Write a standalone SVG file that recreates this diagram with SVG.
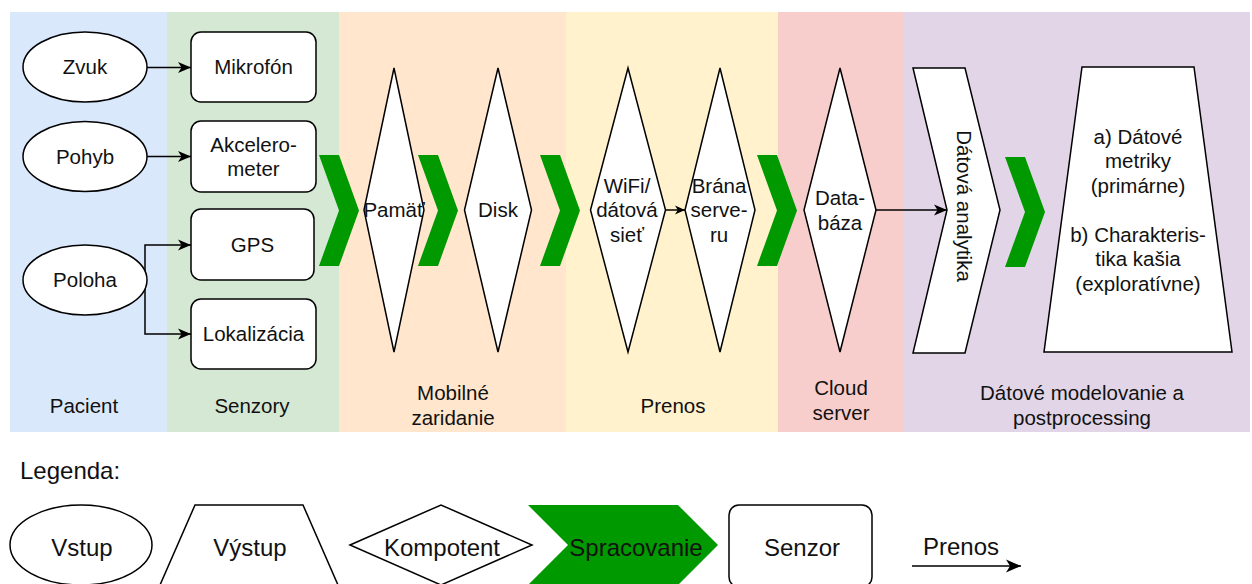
<svg xmlns="http://www.w3.org/2000/svg" width="1252" height="584" viewBox="0 0 1252 584">
<style>
text{font-family:"Liberation Sans",Arial,Helvetica,sans-serif;fill:#111;}
.t{font-size:20.5px;text-anchor:middle;}
.lg{font-size:24px;text-anchor:middle;}
.shape{fill:#fff;stroke:#000;stroke-width:1.5;}
.step{fill:#009900;stroke:none;}
.edge{fill:none;stroke:#000;stroke-width:1.5;}
</style>
<defs>
<marker id="arr" markerWidth="14" markerHeight="12" refX="13" refY="6" orient="auto" markerUnits="userSpaceOnUse">
<path d="M0,0.5 L13,6 L0,11.5 L3.5,6 Z" fill="#000"/>
</marker>
<marker id="arrS" markerWidth="11" markerHeight="10" refX="10" refY="5" orient="auto" markerUnits="userSpaceOnUse">
<path d="M0,0.5 L10,5 L0,9.5 L2.8,5 Z" fill="#000"/>
</marker>
<marker id="arrL" markerWidth="16" markerHeight="14" refX="15" refY="7" orient="auto" markerUnits="userSpaceOnUse">
<path d="M0,0.5 L15,7 L0,13.5 L4,7 Z" fill="#000"/>
</marker>
</defs>

<g id="lanes">
<rect x="10" y="12" width="157" height="420" fill="#dae8fc"/>
<rect x="167" y="12" width="172" height="420" fill="#d5e8d4"/>
<rect x="339" y="12" width="227" height="420" fill="#ffe6cc"/>
<rect x="566" y="12" width="212" height="420" fill="#fff2cc"/>
<rect x="778" y="12" width="125" height="420" fill="#f8cecc"/>
<rect x="903" y="12" width="347" height="420" fill="#e1d5e7"/>
<text class="t" x="84" y="413">Pacient</text>
<text class="t" x="252" y="413">Senzory</text>
<text class="t" x="453" y="400">Mobilné</text>
<text class="t" x="453" y="424.5">zaridanie</text>
<text class="t" x="673" y="413">Prenos</text>
<text class="t" x="841" y="395">Cloud</text>
<text class="t" x="841" y="419.5">server</text>
<text class="t" x="1082" y="400">Dátové modelovanie a</text>
<text class="t" x="1082" y="424.5">postprocessing</text>
</g>

<g id="connectors">
<path class="edge" d="M147,67.5 H191" marker-end="url(#arr)"/>
<path class="edge" d="M147,156.5 H191" marker-end="url(#arr)"/>
<path class="edge" d="M145,280 V245 H191" marker-end="url(#arr)"/>
<path class="edge" d="M145,280 V334 H191" marker-end="url(#arr)"/>
<path class="edge" d="M665.5,210 H685" marker-end="url(#arrS)"/>
<path class="edge" d="M876,210 H947" marker-end="url(#arr)"/>
</g>

<g id="zvuk"><ellipse class="shape" cx="85" cy="67" rx="62" ry="35"/><text class="t" x="85" y="74.3">Zvuk</text></g>
<g id="pohyb"><ellipse class="shape" cx="85" cy="156.5" rx="62" ry="35"/><text class="t" x="85" y="163.8">Pohyb</text></g>
<g id="poloha"><ellipse class="shape" cx="85" cy="280" rx="62" ry="35"/><text class="t" x="85" y="287.3">Poloha</text></g>

<g id="mikrofon"><rect class="shape" x="191" y="32" width="125" height="70" rx="10"/><text class="t" x="253.5" y="74.3">Mikrofón</text></g>
<g id="akcelerometer"><rect class="shape" x="191" y="121" width="125" height="71" rx="10"/><text class="t" x="253.5" y="151.8">Akcelero-</text><text class="t" x="253.5" y="176.3">meter</text></g>
<g id="gps"><rect class="shape" x="191" y="209" width="123" height="71" rx="10"/><text class="t" x="252.5" y="252.3">GPS</text></g>
<g id="lokalizacia"><rect class="shape" x="191" y="299" width="125" height="70" rx="10"/><text class="t" x="253.5" y="341.3">Lokalizácia</text></g>

<g id="pamat"><polygon class="shape" points="394,68 424,210 394,352 364,210"/><text class="t" x="394" y="217.3">Pamäť</text></g>
<g id="disk"><polygon class="shape" points="498,68 531.5,210 498,352 464.5,210"/><text class="t" x="498" y="217.3">Disk</text></g>
<g id="wifi"><polygon class="shape" points="628,68 665.5,210 628,352 590.5,210"/><text class="t" x="627" y="192.8">WiFi/</text><text class="t" x="627" y="217.3">dátová</text><text class="t" x="627" y="241.8">sieť</text></g>
<g id="brana"><polygon class="shape" points="720,68 755,210 720,352 685,210"/><text class="t" x="719" y="192.8">Brána</text><text class="t" x="719" y="217.3">serve-</text><text class="t" x="719" y="241.8">ru</text></g>
<g id="databaza"><polygon class="shape" points="840,68 876,210 840,352 804,210"/><text class="t" x="840" y="205">Data-</text><text class="t" x="840" y="229.5">báza</text></g>

<g id="datova-analytika"><polygon class="shape" points="913,68 965,68 1000,210 965,353 913,353 947,210"/><text class="t" transform="translate(964,206) rotate(90)" x="0" y="7.3">Dátová analytika</text></g>

<g id="vystup-metriky"><polygon class="shape" points="1082,67 1194,67 1232,352 1044,352"/>
<text class="t" x="1138" y="143.8">a) Dátové</text>
<text class="t" x="1138" y="168.3">metriky</text>
<text class="t" x="1138" y="192.8">(primárne)</text>
<text class="t" x="1138" y="241.8">b) Charakteris-</text>
<text class="t" x="1138" y="266.3">tika kašia</text>
<text class="t" x="1138" y="290.8">(exploratívne)</text>
</g>

<g id="spracovanie-steps">
<polygon class="step" points="319,155 339,155 359,210.5 339,266 319,266 339,210.5"/>
<polygon class="step" points="418,155 438,155 458,210.5 438,266 418,266 438,210.5"/>
<polygon class="step" points="540,155 560,155 580,210.5 560,266 540,266 560,210.5"/>
<polygon class="step" points="757,155 777,155 797,210.5 777,266 757,266 777,210.5"/>
<polygon class="step" points="1005,157 1025,157 1045,212 1025,267 1005,267 1025,212"/>
</g>

<g id="legend">
<text x="20" y="479" style="font-size:24px">Legenda:</text>
<g id="leg-vstup"><ellipse class="shape" cx="81" cy="545" rx="71" ry="40"/><text class="lg" x="82" y="555.5">Vstup</text></g>
<g id="leg-vystup"><polygon class="shape" points="160,585 195,505 303,505 338,585"/><text class="lg" x="250" y="555.5">Výstup</text></g>
<g id="leg-komponent"><polygon class="shape" points="350,545 441,505 532,545 441,585"/><text class="lg" x="442" y="555.5">Kompotent</text></g>
<g id="leg-spracovanie"><polygon class="step" points="528,505 678,505 718,545 678,585 528,585 568,545"/><text class="lg" x="636" y="555.5">Spracovanie</text></g>
<g id="leg-senzor"><rect class="shape" x="729" y="505" width="143" height="82" rx="10"/><text class="lg" x="802" y="555.5">Senzor</text></g>
<g id="leg-prenos"><text class="lg" x="961" y="555">Prenos</text><path class="edge" d="M912,566 H1021" marker-end="url(#arrL)"/></g>
</g>
</svg>
